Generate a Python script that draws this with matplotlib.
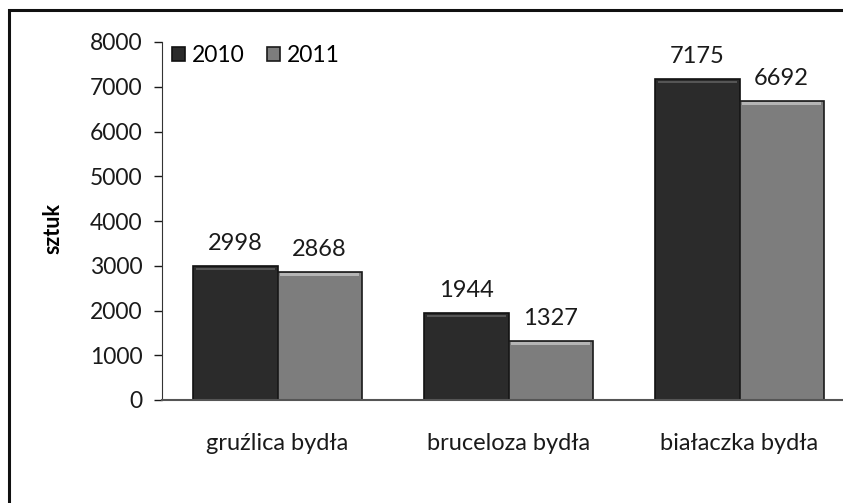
import numpy as np
import matplotlib.pyplot as plt
from matplotlib.patches import Rectangle

categories = ['gruźlica bydła', 'bruceloza bydła', 'białaczka bydła']
years = ['2010', '2011']
values_2010 = [2998, 1944, 7175]
values_2011 = [2868, 1327, 6692]

plt.rcParams['font.family'] = ['Lato', 'DejaVu Sans']

fig = plt.figure(figsize=(8.43, 5.03), dpi=100)
ax = fig.add_axes([162 / 843, 103 / 503, 1 - 162 / 843, 358 / 503])

# outer chart frame (cut at right and bottom like the scan)
fig.patches.append(Rectangle((9 / 843, -0.05), 1.0, 1 - 10 / 503 + 0.05,
                             transform=fig.transFigure, fill=False,
                             edgecolor='#111111', linewidth=2.2))

x = np.arange(len(categories))
w = 0.365
b1 = ax.bar(x - w / 2, values_2010, w, color='#2b2b2b', edgecolor='#111111',
            linewidth=1.2, label=years[0])
b2 = ax.bar(x + w / 2, values_2011, w, color='#7d7d7d', edgecolor='#1a1a1a',
            linewidth=1.2, label=years[1])

# light bevel at top of each bar
for bars, hl in ((b1, '#555555'), (b2, '#b5b5b5')):
    for r in bars:
        ax.add_patch(Rectangle((r.get_x() + 0.012, r.get_height() - 100),
                               r.get_width() - 0.024, 60, color=hl, lw=0, zorder=3))

for bars, vals in ((b1, values_2010), (b2, values_2011)):
    for r, v in zip(bars, vals):
        ax.text(r.get_x() + r.get_width() / 2, v + 260, str(v), ha='center',
                va='bottom', fontsize=17, color='#1a1a1a')

ax.set_xlim(-0.5, 2.448)
ax.set_ylim(0, 8000)
ax.set_yticks(range(0, 8001, 1000))
ax.tick_params(axis='y', labelsize=16.5, length=6, width=1, colors='#1a1a1a', pad=8)
ax.set_xticks(x)
ax.set_xticklabels(categories, fontsize=17, color='#1a1a1a')
ax.tick_params(axis='x', length=0, pad=24)
for s in ('top', 'right'):
    ax.spines[s].set_visible(False)
ax.spines['left'].set_color('#333333')
ax.spines['bottom'].set_color('#555555')
ax.spines['bottom'].set_linewidth(1.5)

ax.set_ylabel('sztuk', fontsize=15.5, fontweight='bold')
ax.yaxis.set_label_coords(-0.145, 0.48)

ax.legend(loc='upper left', ncol=2, frameon=False, fontsize=16.5,
          handlelength=0.55, handleheight=0.55, handletextpad=0.3,
          columnspacing=1.0, bbox_to_anchor=(-0.005, 1.03), borderaxespad=0.2)

fig.savefig('out.png', dpi=100)
